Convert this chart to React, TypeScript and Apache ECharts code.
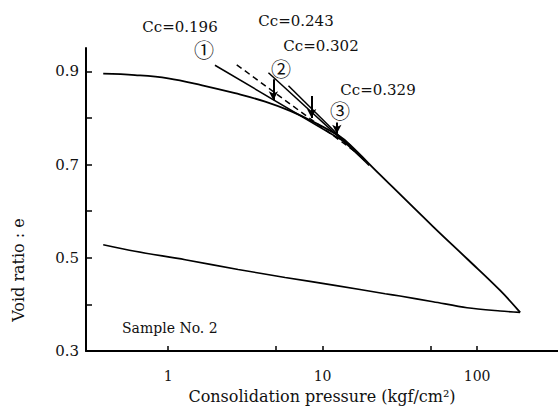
import React, { useEffect, useRef } from "react";
import * as echarts from "echarts";

// Loading (compression) curve
const loadP = [0.38, 0.61, 1, 1.66, 2.71, 4.25, 6.16, 8.68, 12.97, 15.07, 23.6, 51.9, 86.1, 141, 190];
const loadE = [0.895, 0.892, 0.885, 0.87, 0.853, 0.835, 0.815, 0.792, 0.76, 0.742, 0.678, 0.567, 0.498, 0.43, 0.383];

// Unloading (rebound) curve
const unloadP = [190, 141, 86.1, 51.9, 31.7, 25.4, 12.0, 5.72, 2.84, 1.29, 0.61, 0.38];
const unloadE = [0.383, 0.386, 0.393, 0.406, 0.418, 0.423, 0.441, 0.458, 0.475, 0.496, 0.514, 0.528];

// Tangent lines for the compression index
const ce196P = [2.01, 15.07];
const ce196E = [0.913, 0.742];
const ce243P = [2.78, 16.2];
const ce243E = [0.914, 0.728];
const ce302P = [4.46, 18.8];
const ce302E = [0.897, 0.708];
const ce329P = [6.01, 20];
const ce329E = [0.869, 0.698];

// Vertical arrows
const arrowP = [4.8, 8.49, 12.36];
const arrowTop = [0.883, 0.847, 0.79];
const arrowBottom = [0.838, 0.8, 0.766];

// Axis ticks
const xTickValues = [1, 5, 10, 50, 100];
const xLabelValues = [1, 10, 100];
const yTickValues = [0.3, 0.4, 0.5, 0.6, 0.7, 0.8, 0.9];
const yLabelValues = [0.3, 0.5, 0.7, 0.9];

const zip = (a: number[], b: number[]) => a.map((v, i) => [v, b[i]]);

const SERIF = "DejaVu Serif";
const INK = "#111";

export default function App() {
  const ref = useRef<HTMLDivElement>(null);
  useEffect(() => {
    if (!ref.current) return;
    const chart = echarts.init(ref.current, undefined, { renderer: "svg" });
    const lineBase = { type: "line", showSymbol: false, symbol: "none", silent: true };
    const option: any = {
      animation: false,
      backgroundColor: "#fff",
      grid: { left: 86, right: 0, top: 48, bottom: 53 },
      xAxis: {
        type: "log",
        logBase: 10,
        min: 0.294,
        max: 334,
        axisLine: { lineStyle: { color: "#000", width: 2 } },
        axisTick: { inside: true, length: 5, lineStyle: { color: "#000", width: 1.5 }, customValues: xTickValues },
        axisLabel: { customValues: xLabelValues, color: INK, fontFamily: SERIF, fontSize: 14, margin: 18 },
        splitLine: { show: false },
        minorTick: { show: false },
        name: "Consolidation pressure (kgf/cm²)",
        nameLocation: "middle",
        nameGap: 36,
        nameTextStyle: { color: INK, fontFamily: SERIF, fontSize: 16 },
      },
      yAxis: {
        type: "value",
        min: 0.3,
        max: 0.95,
        interval: 0.1,
        axisLine: { show: true, lineStyle: { color: "#000", width: 2 } },
        axisTick: { show: true, inside: true, length: 6, lineStyle: { color: "#000", width: 1.5 }, customValues: yTickValues },
        axisLabel: {
          customValues: yLabelValues,
          color: INK,
          fontFamily: SERIF,
          fontSize: 15,
          margin: 7,
          formatter: (v: number) => v.toFixed(1),
        },
        splitLine: { show: false },
      },
      series: [
        { ...lineBase, name: "loading", data: zip(loadP, loadE), smooth: 0.4, lineStyle: { color: "#000", width: 1.8 } },
        { ...lineBase, name: "unloading", data: zip(unloadP, unloadE), smooth: 0.3, lineStyle: { color: "#000", width: 1.6 } },
        { ...lineBase, name: "Cc=0.196", data: zip(ce196P, ce196E), lineStyle: { color: "#000", width: 1.5 } },
        { ...lineBase, name: "Cc=0.243", data: zip(ce243P, ce243E), lineStyle: { color: "#000", width: 1.5, type: [6, 4] } },
        { ...lineBase, name: "Cc=0.302", data: zip(ce302P, ce302E), lineStyle: { color: "#000", width: 1.5 } },
        { ...lineBase, name: "Cc=0.329", data: zip(ce329P, ce329E), lineStyle: { color: "#000", width: 1.5 } },
        {
          ...lineBase,
          name: "arrows",
          data: [],
          markLine: {
            silent: true,
            symbol: ["none", "arrow"],
            symbolSize: [7, 9],
            label: { show: false },
            lineStyle: { color: "#000", width: 2, type: "solid" },
            data: arrowP.map((p, i) => [
              { coord: [p, arrowTop[i]] },
              { coord: [p, arrowBottom[i]] },
            ]),
          },
        },
      ],
      graphic: [
        { type: "text", x: 18, y: 270, rotation: Math.PI / 2, style: { text: "Void ratio : e", fill: INK, font: `16px "${SERIF}"`, align: "center", verticalAlign: "middle" } },
        { type: "text", x: 180, y: 27, style: { text: "Cc=0.196", fill: INK, font: `15px "${SERIF}"`, align: "center", verticalAlign: "middle" } },
        { type: "text", x: 204, y: 49, style: { text: "①", fill: INK, font: `20px "Noto Sans CJK JP"`, align: "center", verticalAlign: "middle" } },
        { type: "text", x: 296, y: 21, style: { text: "Cc=0.243", fill: INK, font: `15px "${SERIF}"`, align: "center", verticalAlign: "middle" } },
        { type: "text", x: 321, y: 46, style: { text: "Cc=0.302", fill: INK, font: `15px "${SERIF}"`, align: "center", verticalAlign: "middle" } },
        { type: "text", x: 281, y: 68, style: { text: "②", fill: INK, font: `20px "Noto Sans CJK JP"`, align: "center", verticalAlign: "middle" } },
        { type: "text", x: 378, y: 90, style: { text: "Cc=0.329", fill: INK, font: `15px "${SERIF}"`, align: "center", verticalAlign: "middle" } },
        { type: "text", x: 340, y: 110, style: { text: "③", fill: INK, font: `20px "Noto Sans CJK JP"`, align: "center", verticalAlign: "middle" } },
        { type: "text", x: 122, y: 328, style: { text: "Sample No. 2", fill: INK, font: `14px "${SERIF}"`, align: "left", verticalAlign: "middle" } },
      ],
    };
    chart.setOption(option);
    return () => chart.dispose();
  }, []);
  return <div ref={ref} style={{ width: 558, height: 409, position: "fixed", left: 0, top: 0 }} />;
}
